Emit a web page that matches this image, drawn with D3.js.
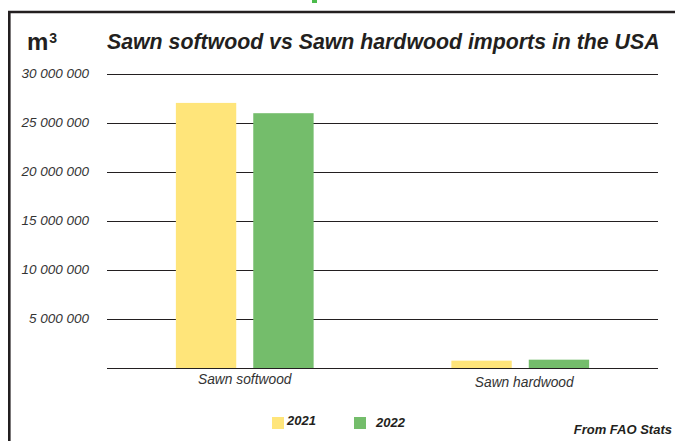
<!DOCTYPE html>
<html>
<head>
<meta charset="utf-8">
<script src="https://cdn.jsdelivr.net/npm/d3@7"></script>
<style>
  body { margin: 0; background: #fff; }
  svg { display: block; font-family: "Liberation Sans", Arial, sans-serif; }
</style>
</head>
<body>
<div id="chart"></div>
<script>
// data
var categories = ['Sawn softwood', 'Sawn hardwood'];
var years = ['2021', '2022'];
var imports2021 = [27050000, 750000];
var imports2022 = [26000000, 850000];
var yTicks = [0, 5000000, 10000000, 15000000, 20000000, 25000000, 30000000];
var colors = ['#ffe57a', '#74bd6b'];

var width = 675;
var height = 441;

var svg = d3.select('#chart').append('svg')
  .attr('width', width)
  .attr('height', height);

// frame
svg.append('path')
  .attr('d', 'M9.3,' + height + 'V12H' + width)
  .style('fill', 'none')
  .style('stroke', '#231f20')
  .style('stroke-width', 2.6);
svg.append('rect')
  .attr('x', 312).attr('y', 0)
  .attr('width', 5).attr('height', 3)
  .style('fill', '#4cbb4c');

// titles
var unit = svg.append('text')
  .attr('x', 27)
  .attr('y', 50)
  .style('font-weight', 'bold')
  .style('font-size', '24px')
  .style('fill', '#231f20');
unit.append('tspan').text('m');
unit.append('tspan').attr('dx', 1).attr('dy', -7).style('font-size', '14px').text('3');

svg.append('text')
  .attr('x', 107)
  .attr('y', 49)
  .style('font-weight', 'bold')
  .style('font-style', 'italic')
  .style('font-size', '21.3px')
  .style('fill', '#231f20')
  .text('Sawn softwood vs Sawn hardwood imports in the USA');

// scales
var y = d3.scaleLinear().domain([0, 30000000]).range([368, 74]);
var x0 = d3.scaleBand().domain(categories).range([107, 658])
  .paddingInner(0.5).paddingOuter(0.25);
var x1 = d3.scaleBand().domain(years).range([0, x0.bandwidth()]).paddingInner(0.22);

// gridlines
svg.append('g')
  .selectAll('line')
  .data(yTicks)
  .enter()
  .append('line')
  .attr('x1', 107)
  .attr('x2', 658)
  .attr('y1', function (d) { return Math.round(y(d)) + 0.5; })
  .attr('y2', function (d) { return Math.round(y(d)) + 0.5; })
  .style('stroke', '#231f20')
  .style('stroke-width', 1.2);

// y labels
var fmt = function (d) { return d3.format(',')(d).replace(/,/g, ' '); };
svg.append('g')
  .selectAll('text')
  .data(yTicks.filter(function (d) { return d > 0; }))
  .enter()
  .append('text')
  .attr('x', 89)
  .attr('y', function (d) { return y(d) + 4; })
  .style('text-anchor', 'end')
  .style('font-style', 'italic')
  .style('font-size', '13.5px')
  .style('fill', '#333')
  .text(fmt);

// bars
var series = [imports2021, imports2022];
var groups = svg.append('g')
  .selectAll('g')
  .data(categories)
  .enter()
  .append('g')
  .attr('transform', function (d) { return 'translate(' + x0(d) + ',0)'; });

groups.selectAll('rect')
  .data(function (d, i) {
    return years.map(function (yr, j) { return { year: yr, value: series[j][i], color: colors[j] }; });
  })
  .enter()
  .append('rect')
  .attr('x', function (d) { return x1(d.year); })
  .attr('width', x1.bandwidth())
  .attr('y', function (d) { return y(d.value); })
  .attr('height', function (d) { return y(0) - y(d.value); })
  .style('fill', function (d) { return d.color; });

// category labels
groups.append('text')
  .attr('x', function (d, i) { return x0.bandwidth() / 2 + (i === 0 ? 0 : 4); })
  .attr('y', function (d, i) { return i === 0 ? 384 : 387; })
  .style('text-anchor', 'middle')
  .style('font-style', 'italic')
  .style('font-size', '13.8px')
  .style('fill', '#333')
  .text(function (d) { return d; });

// legend
var legendX = [272, 354];
var legend = svg.append('g')
  .selectAll('g')
  .data(years)
  .enter()
  .append('g')
  .attr('transform', function (d, i) { return 'translate(' + legendX[i] + ',417)'; });
legend.append('rect')
  .attr('width', 12)
  .attr('height', 12)
  .style('fill', function (d, i) { return colors[i]; });
legend.append('text')
  .attr('x', function (d, i) { return i === 0 ? 15 : 22; })
  .attr('y', function (d, i) { return i === 0 ? 8 : 10; })
  .style('font-weight', 'bold')
  .style('font-style', 'italic')
  .style('font-size', '13px')
  .style('fill', '#231f20')
  .text(function (d) { return d; });

// source
svg.append('text')
  .attr('x', 672)
  .attr('y', 434)
  .style('text-anchor', 'end')
  .style('font-weight', 'bold')
  .style('font-style', 'italic')
  .style('font-size', '13px')
  .style('fill', '#231f20')
  .text('From FAO Stats');
</script>
</body>
</html>
